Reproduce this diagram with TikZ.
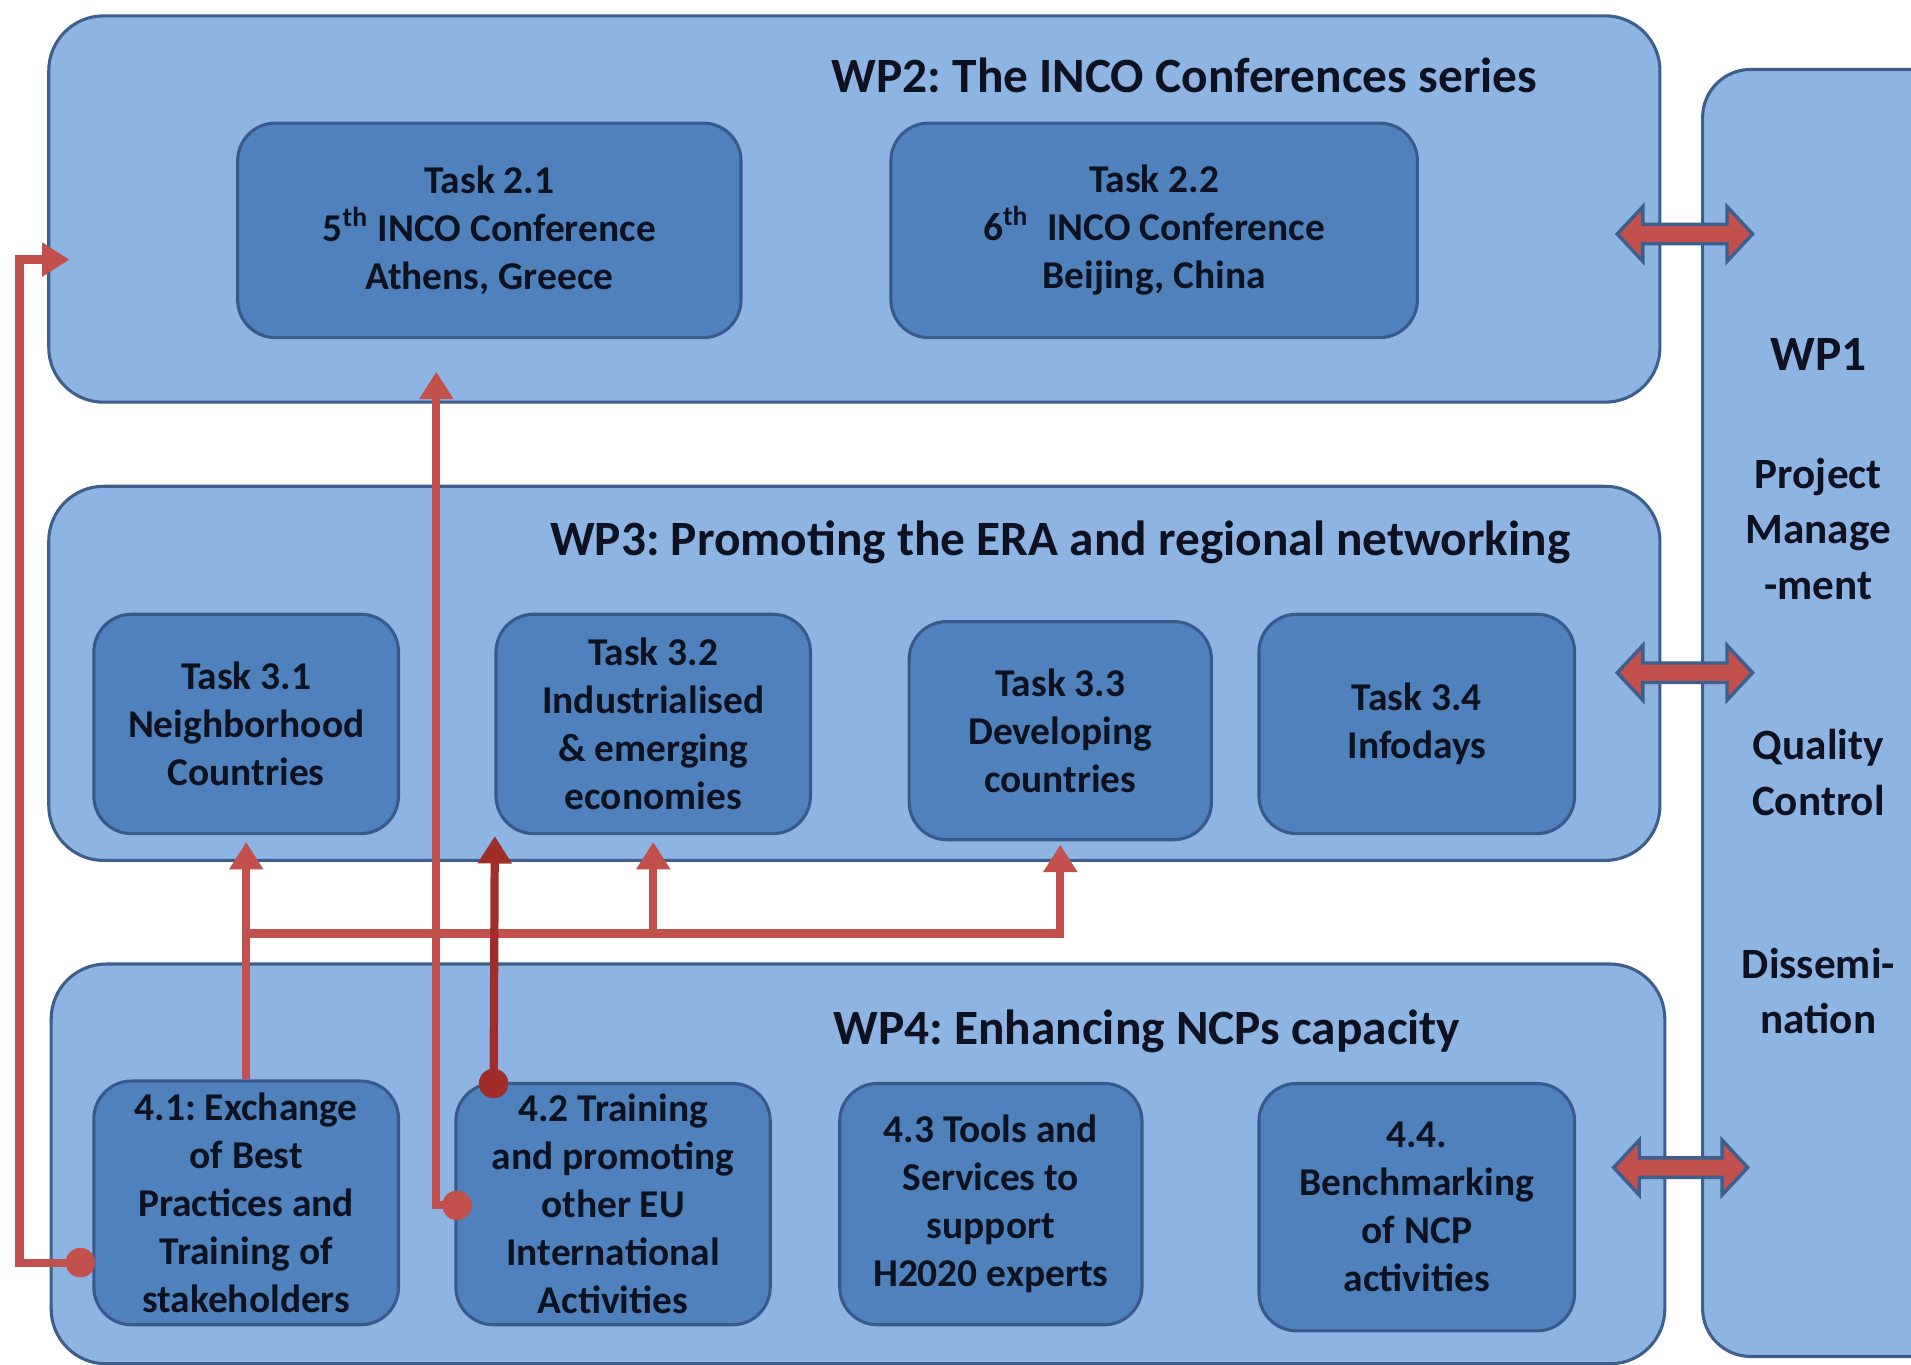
\documentclass[tikz,border=0pt]{standalone}
\usepackage{fontspec}
\setmainfont{Carlito}
\frenchspacing
\usetikzlibrary{arrows.meta,calc}
\definecolor{outerc}{RGB}{142,180,227}
\definecolor{innerc}{RGB}{79,129,189}
\definecolor{bordc}{RGB}{62,94,140}
\definecolor{bordc2}{RGB}{56,90,138}
\definecolor{redc}{RGB}{194,80,77}
\definecolor{darkredc}{RGB}{160,45,42}
\definecolor{textc}{RGB}{14,18,32}
\def\pxu{0.0125cm}
\newcommand\dblarrow[3]{%
  \filldraw[blockarrow] (#1,#3) -- (#1+21,#3-22.5) -- (#1+21,#3-8) -- (#2-21,#3-8) -- (#2-21,#3-22.5) -- (#2,#3)
   -- (#2-21,#3+22.5) -- (#2-21,#3+8) -- (#1+21,#3+8) -- (#1+21,#3+22.5) -- cycle;}
\tikzset{
  wpbox/.style={draw=bordc, fill=outerc, line width=0.9pt, rounded corners=16pt},
  taskbox/.style={draw=bordc2, fill=innerc, line width=0.9pt, rounded corners=11pt,
     align=center, text=textc, inner sep=0pt,
     font={\fontsize{11.5pt}{14pt}\selectfont\bfseries}},
  wptitle/.style={text=textc, inner sep=0pt, font={\fontsize{14.4pt}{17pt}\selectfont\bfseries}},
  wp1text/.style={text=textc, inner sep=0pt, align=center, font={\fontsize{12.6pt}{16.2pt}\selectfont\bfseries}},
  redline/.style={draw=redc, line width=2.4pt},
  darkline/.style={draw=darkredc, line width=2.4pt},
  tip/.style={-{Triangle[width=9.5pt,length=8pt]}},
  dotnode/.style={circle, fill=redc, inner sep=0pt, minimum size={24*\pxu}},
  darkdot/.style={circle, fill=darkredc, inner sep=0pt, minimum size={24*\pxu}},
  blockarrow/.style={fill=redc, draw=bordc, line width=1pt, line join=miter}
}
\begin{document}
\begin{tikzpicture}[x=0.0125cm, y=-0.0125cm]
\useasboundingbox (0,0) rectangle (1568,1120);
\fill[white] (0,0) rectangle (1568,1120);
\clip (0,0) rectangle (1568,1120);

% WP1
\node[wpbox, rounded corners=14pt, minimum width={240*\pxu}, minimum height={1056*\pxu}] (wp1) at (1517,585) {};
\node[wptitle] (wp1t) at (1492,291) {WP1};
\node[wp1text] (wp1a) at (1492,434) {Project\\Manage\\-ment};
\node[wp1text] (wp1b) at (1492,634) {Quality\\Control};
\node[wp1text] (wp1c) at (1492,813) {Dissemi-\\nation};

% WP2
\node[wpbox, minimum width={1322*\pxu}, minimum height={317*\pxu}] (wp2) at (701,171.5) {};
\node[wptitle] (wp2t) at (972,62) {WP2: The INCO Conferences series};
\node[taskbox, minimum width={413*\pxu}, minimum height={176*\pxu}] (t21) at (401.5,189)
  {Task 2.1\\5\textsuperscript{th} INCO Conference\\Athens, Greece};
\node[taskbox, minimum width={432*\pxu}, minimum height={176*\pxu}] (t22) at (947,189)
  {Task 2.2\\6\textsuperscript{th}\ \ INCO Conference\\Beijing, China};

% WP3
\node[wpbox, minimum width={1322*\pxu}, minimum height={307*\pxu}] (wp3) at (701,552.5) {};
\node[wptitle] (wp3t) at (870,445) {WP3: Promoting the ERA and regional networking};
\node[taskbox, minimum width={250*\pxu}, minimum height={180*\pxu}] (t31) at (202,594)
  {Task 3.1\\Neighborhood\\Countries};
\node[taskbox, minimum width={258*\pxu}, minimum height={180*\pxu}] (t32) at (536,594)
  {Task 3.2\\Industrialised\\\&\ emerging\\economies};
\node[taskbox, minimum width={248*\pxu}, minimum height={179*\pxu}] (t33) at (870,599.5)
  {Task 3.3\\Developing\\countries};
\node[taskbox, minimum width={259*\pxu}, minimum height={180*\pxu}] (t34) at (1162.5,594)
  {Task 3.4\\Infodays};

% WP4
\node[wpbox, minimum width={1324*\pxu}, minimum height={328*\pxu}] (wp4) at (704,955) {};
\node[wptitle] (wp4t) at (941,846) {WP4: Enhancing NCPs capacity};
\node[taskbox, minimum width={250*\pxu}, minimum height={200*\pxu}] (t41) at (202,987)
  {4.1: Exchange\\of Best\\Practices and\\Training of\\stakeholders};
\node[taskbox, minimum width={258*\pxu}, minimum height={198*\pxu}] (t42) at (503,988)
  {4.2 Training\\and promoting\\other EU\\International\\Activities};
\node[taskbox, minimum width={248*\pxu}, minimum height={198*\pxu}] (t43) at (813,988)
  {4.3 Tools and\\Services to\\support\\H2020 experts};
\node[taskbox, minimum width={259*\pxu}, minimum height={203*\pxu}] (t44) at (1162.5,990.5)
  {4.4.\\Benchmarking\\of NCP\\activities};

% block double arrows WPx <-> WP1
\dblarrow{1327}{1438}{192}
\dblarrow{1327}{1438}{552}
\dblarrow{1324}{1434}{958}

% connector end points
\coordinate (e2) at (57,213);
\coordinate (lx) at (16,0);
\coordinate (e21) at (358,305);
\coordinate (e32) at (406,686);
\coordinate (bus) at (202,766);

% dots
\node[dotnode] (d41) at (66,1036) {};
\node[dotnode] (d42) at (375,989) {};
\node[darkdot] (d42t) at (405,889) {};

% connectors
\draw[redline, tip] (d41.center) -- (d41.center -| lx) |- (e2);
\draw[redline, tip] (d42.center) -| (e21);
\draw[redline, tip, shorten >=2pt] (t41.north) -- (t31.south);
\draw[redline, tip, shorten >=1pt] (bus) -| (t33.south);
\draw[redline, tip, shorten >=2pt] (bus -| t32.south) -- (t32.south);
\draw[darkline, tip] (d42t.center) -- (e32);

% redraw dots on top
\node[dotnode] at (d41) {};
\node[dotnode] at (d42) {};
\node[darkdot] at (d42t) {};
\end{tikzpicture}
\end{document}
